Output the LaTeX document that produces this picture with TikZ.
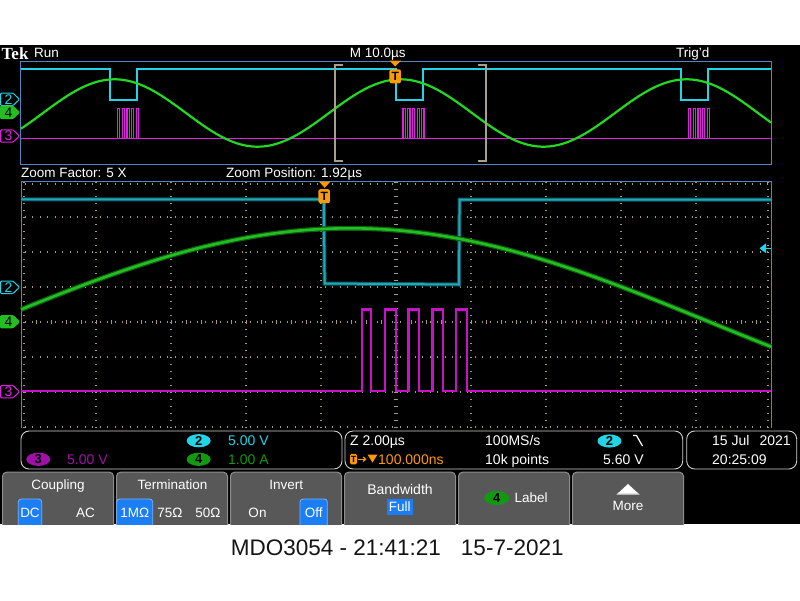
\documentclass[tikz,border=0pt]{standalone}
\usepackage{fontspec}
\setmainfont{Liberation Sans}
\newfontfamily\tekfont{Liberation Serif}
\usetikzlibrary{shapes.geometric,arrows.meta}
\definecolor{winblue}{HTML}{4E88C4}
\definecolor{cyanA}{HTML}{22D4E6}
\definecolor{cyanB}{HTML}{1FA8B8}
\definecolor{cyanH}{HTML}{0E5560}
\definecolor{greenA}{HTML}{22D822}
\definecolor{greenB}{HTML}{22BE22}
\definecolor{greenH}{HTML}{0D600D}
\definecolor{magA}{HTML}{E020E0}
\definecolor{magB}{HTML}{C812C8}
\definecolor{gridc}{HTML}{A89A78}
\definecolor{brack}{HTML}{A89E8A}
\definecolor{tekorange}{HTML}{FF9A00}
\definecolor{btngrey}{HTML}{585858}
\definecolor{btnedge}{HTML}{8E8E8E}
\definecolor{selblue}{HTML}{1C7EF4}
\definecolor{purp}{HTML}{A010A8}
\definecolor{grnread}{HTML}{119A11}
\definecolor{boxedge}{HTML}{D0D0D0}
\tikzset{
  lbl/.style={text=white, inner sep=0pt, font=\fontsize{13.5}{15}\selectfont, text height=9.6pt, text depth=0pt},
  chnum/.style={inner sep=0pt, font=\fontsize{14}{14}\selectfont, text height=9.5pt, text depth=0pt},
  chell/.style={ellipse, inner sep=0pt, minimum width=24pt, minimum height=13pt, font=\bfseries\fontsize{13}{13}\selectfont, text=black, text height=9.3pt, text depth=0pt},
  tbox/.style={fill=tekorange, rounded corners=2pt, inner sep=0pt, minimum width=11.5pt, minimum height=14pt, font=\bfseries\fontsize{12}{12}\selectfont, text=black, text height=8.6pt, text depth=0pt},
  btn/.style={fill=btngrey, draw=btnedge, line width=1pt, rounded corners=4pt, inner sep=0pt, minimum width=111pt, minimum height=62pt},
  selbox/.style={fill=selblue, draw=selblue!60!white, line width=0.8pt, rounded corners=3pt},
  rbox/.style={fill=black, draw=boxedge, line width=0.9pt, rounded corners=8pt, inner sep=0pt, minimum height=38pt},
  gridln/.style={gridc, line width=1.3pt},
}
\newcommand\chmark[6]{%
  \filldraw[draw=#3, fill=#4, line width=1pt, rounded corners=1pt]
    (0.5,#1-6.2) -- (13,#1-6.2) -- (19.5,#1) -- (13,#1+6.2) -- (0.5,#1+6.2) -- cycle;
  \node[chnum, text=#5] (#2) at (8.5,#1) {#6};}
\begin{document}
\begin{tikzpicture}[x=1pt, y=-1pt]
\useasboundingbox (0,0) rectangle (800,600);
\fill[white] (0,0) rectangle (800,600);
\begin{scope}
\clip (0,44.5) rectangle (800,524);
\fill[black] (0,44.5) rectangle (800,524);

% ---------- title line ----------
\node[anchor=west, inner sep=0pt, text=white, font=\tekfont\bfseries\fontsize{17}{17}\selectfont, text height=11.5pt, text depth=0pt] (tek) at (1.5,53.5) {Tek};
\node[lbl, anchor=west] (run) at (34,53) {Run};
\node[lbl] (mtime) at (377.7,53) {M 10.0µs};
\node[lbl, anchor=west] (trigd) at (676,53) {Trig’d};

% ---------- overview window ----------
\draw[winblue, line width=1pt] (20.7,61.7) rectangle (771,164);
\draw[cyanA, line width=2pt] (21,69.3) -- (110,69.3) -- (110,100.3) -- (137,100.3) -- (137,69.3)
  -- (395.5,69.3) -- (395.5,100.3) -- (422.5,100.3) -- (422.5,69.3)
  -- (681,69.3) -- (681,100.3) -- (708,100.3) -- (708,69.3) -- (771,69.3);
\draw[magA, line width=1.6pt] (21,138.3) -- (771,138.3);
\foreach \s in {117.5,403,688.5}{
  \foreach \k in {0,...,4}{
    \draw[magA, line width=1.2pt] ({\s+4.7*\k},138.3) |- ({\s+4.7*\k+2.2},108.3) -- ({\s+4.7*\k+2.2},138.3);
  }
}
\draw[greenA, line width=2.2pt] plot[domain=21:771, samples=220] (\x, {113-33.7*cos((\x-400.5)*1.258741)});
\draw[brack, line width=2pt] (343,64.5) -- (335,64.5) -- (335,160.7) -- (343,160.7);
\draw[brack, line width=2pt] (478,64.5) -- (486,64.5) -- (486,160.7) -- (478,160.7);
\fill[tekorange] (389.5,60.5) -- (401,60.5) -- (395.2,66.5) -- cycle;
\node[tbox] (trigA) at (395.2,76.3) {T};
\chmark{99.3}{ovtwo}{cyanA}{black}{cyanA}{2}
\chmark{112.4}{ovfour}{greenB}{greenB}{black}{4}
\chmark{136}{ovthree}{magA}{black}{magA}{3}

% ---------- zoom labels ----------
\node[lbl, anchor=west] (zf) at (21,172.5) {Zoom Factor: 5 X};
\node[lbl, anchor=west] (zp) at (226,172.5) {Zoom Position: 1.92µs};

% ---------- zoom window graticule ----------
\begin{scope}
\clip (21,181) rectangle (771,428);
\foreach \i in {1,...,9}
  \draw[gridln, dash pattern=on 1.3pt off 5.7pt] ({21+75*\i},182) -- ({21+75*\i},428);
\foreach \j in {1,...,7}
  \draw[gridln, dash pattern=on 1.3pt off 6.2pt] (24.5,{182+35*\j}) -- (771,{182+35*\j});
\foreach \m in {1,...,50}
  \draw[gridc, line width=0.9pt] ({21+15*\m},319.6) -- ({21+15*\m},324.4);
\foreach \m in {0,...,35}
  \draw[gridc, line width=0.9pt] (393.6,{182+7*\m}) -- (398.4,{182+7*\m});
\draw[gridln, dash pattern=on 1.3pt off 5.7pt] (24,182) -- (24,428);
\draw[gridln, dash pattern=on 1.3pt off 5.7pt] (768,182) -- (768,428);
\draw[gridln, dash pattern=on 1.3pt off 6.2pt] (24.5,184) -- (771,184);
\end{scope}
\draw[winblue, line width=1pt] (21,428) -- (21,181) -- (771,181) -- (771,428);

% ---------- zoom window traces ----------
\draw[cyanH, line width=4pt] (21,199.3) -- (323.8,199.3) -- (324.6,283.5) -- (459,284.5) -- (459.6,199.6) -- (771,199.6);
\draw[cyanB, line width=2pt] (21,199.3) -- (323.8,199.3) -- (324.6,283.5) -- (459,284.5) -- (459.6,199.6) -- (771,199.6);
\draw[magB, line width=2.4pt] (21,391) -- (361.7,391) -- (361.7,309.3) -- (371,309.3) -- (371,391)
  -- (385,391) -- (385,309.3) -- (395.7,309.3) -- (395.7,391)
  -- (408.3,391) -- (408.3,309.3) -- (419,309.3) -- (419,391)
  -- (432.3,391) -- (432.3,309.3) -- (442.7,309.3) -- (442.7,391)
  -- (456,391) -- (456,309.3) -- (466.7,309.3) -- (466.7,391) -- (771,391);
\draw[greenH, line width=5pt] plot[domain=21:771, samples=200] (\x, {321.1-92.8*cos((\x-350)*0.251748)});
\draw[greenB, line width=2.6pt] plot[domain=21:771, samples=200] (\x, {321.1-92.8*cos((\x-350)*0.251748)});
\fill[tekorange] (319,181.5) -- (330.5,181.5) -- (324.7,187.8) -- cycle;
\node[tbox] (trigB) at (324.2,196.2) {T};
\fill[cyanA] (759.5,248.3) -- (766,243.3) -- (766,253.3) -- cycle;
\draw[cyanA, line width=1pt] (766,248.3) -- (771,248.3);
\chmark{287.3}{mtwo}{cyanA}{black}{cyanA}{2}
\chmark{321.7}{mfour}{greenB}{greenB}{black}{4}
\chmark{391.7}{mthree}{magA}{black}{magA}{3}

% ---------- readouts ----------
\draw[rbox] (21,431) rectangle (342,469);
\node[chell, fill=cyanA] (rtwo) at (198.7,440.7) {2};
\node[lbl, anchor=west, text=cyanA, font=\fontsize{14}{15}\selectfont] (rtwov) at (228,440.7) {5.00 V};
\node[chell, fill=grnread] (rfour) at (198.7,459.3) {4};
\node[lbl, anchor=west, text=grnread, font=\fontsize{14}{15}\selectfont] (rfourv) at (228,459.3) {1.00 A};
\node[chell, fill=purp] (rthree) at (38.3,459.3) {3};
\node[lbl, anchor=west, text=purp, font=\fontsize{14}{15}\selectfont] (rthreev) at (67,459.3) {5.00 V};

\draw[rbox] (345,431) rectangle (682.7,469);
\node[lbl, anchor=west, font=\fontsize{14}{15}\selectfont] (zscale) at (350,441) {Z 2.00µs};
\node[fill=tekorange, rounded corners=1.5pt, inner sep=0pt, minimum width=7pt, minimum height=10.5pt, font=\bfseries\fontsize{9}{9}\selectfont, text=black, text height=6.5pt, text depth=0pt] (rtrig) at (353.5,459.2) {T};
\draw[tekorange, line width=1.2pt, -{Straight Barb[length=2.5pt,width=4.5pt]}] (357.5,459.2) -- (366.5,459.2);
\fill[tekorange] (367.5,454.5) -- (377.5,454.5) -- (372.5,462.5) -- cycle;
\node[lbl, anchor=west, text=tekorange, font=\fontsize{14}{15}\selectfont] (tdelay) at (378,459.2) {100.000ns};
\node[lbl, anchor=west, font=\fontsize{14}{15}\selectfont] (rate) at (485,441) {100MS/s};
\node[lbl, anchor=west, font=\fontsize{14}{15}\selectfont] (pts) at (485,459.2) {10k points};
\node[chell, fill=cyanA] (rtrtwo) at (609.5,441) {2};
\draw[white, line width=1.2pt] (633,435.5) -- (636.5,435.5) -- (642.5,446);
\node[lbl, anchor=west, font=\fontsize{14}{15}\selectfont] (tlev) at (603,459.2) {5.60 V};

\draw[rbox] (686.7,431) rectangle (796.7,469);
\node[lbl, anchor=west, font=\fontsize{14}{15}\selectfont] (date) at (712,441) {15 Jul\hspace{10pt}2021};
\node[lbl, anchor=west, font=\fontsize{14}{15}\selectfont] (clock) at (712,459.2) {20:25:09};

% ---------- menu buttons ----------
\node[btn, anchor=north west] (bone) at (2,471.7) {};
\node[btn, anchor=north west] (btwo) at (116,471.7) {};
\node[btn, anchor=north west] (bthree) at (230,471.7) {};
\node[btn, anchor=north west] (bfour) at (344,471.7) {};
\node[btn, anchor=north west] (bfive) at (458,471.7) {};
\node[btn, anchor=north west] (bsix) at (572,471.7) {};

\node[lbl] (coup) at (58,485) {Coupling};
\draw[selbox] (18.3,499) rectangle (41.7,532);
\node[lbl] (dc) at (30,512.3) {DC};
\node[lbl] (ac) at (85.5,512.3) {AC};

\node[lbl] (term) at (172.5,485) {Termination};
\draw[selbox] (116.7,499) rectangle (152.7,532);
\node[lbl] (tone) at (134.7,512.3) {1MΩ};
\node[lbl] (tsev) at (170,512.3) {75Ω};
\node[lbl] (tfif) at (208,512.3) {50Ω};

\node[lbl] (inv) at (286.3,485) {Invert};
\draw[selbox] (300,499) rectangle (327.3,532);
\node[lbl] (ion) at (257.5,512.3) {On};
\node[lbl] (ioff) at (313.7,512.3) {Off};

\node[lbl, font=\fontsize{14}{15}\selectfont] (bw) at (400,490) {Bandwidth};
\fill[selblue] (386.7,499) rectangle (412.7,514.5);
\node[lbl] (bwfull) at (399.7,506.8) {Full};

\node[chell, fill=grnread, minimum width=25pt, minimum height=14pt] (lfour) at (496.7,498) {4};
\node[lbl, anchor=west] (lab) at (514.3,498) {Label};

\fill[white] (628,484) -- (639.5,494.5) -- (616.5,494.5) -- cycle;
\fill[btnedge!70!white] (617.5,493.5) -- (638.5,493.5) -- (639.5,494.5) -- (616.5,494.5) -- cycle;
\node[lbl] (more) at (628,505.5) {More};
\end{scope}

% ---------- caption ----------
\node[anchor=west, inner sep=0pt, text=black!92, font=\fontsize{22.5}{24}\selectfont, text height=16pt, text depth=0pt] (cap) at (230.7,547) {MDO3054 - 21:41:21\hspace{20pt}15-7-2021};
\end{tikzpicture}
\end{document}
